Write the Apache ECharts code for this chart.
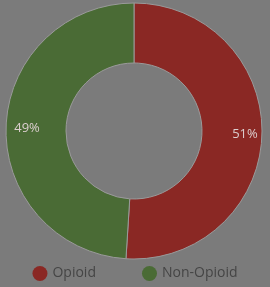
<!DOCTYPE html>
<html>
<head>
<meta charset="utf-8">
<script src="https://cdn.jsdelivr.net/npm/echarts@6/dist/echarts.min.js"></script>
<style>
  html, body { margin: 0; padding: 0; background: #7b7b7b; }
  #chart { width: 270px; height: 287px; }
</style>
</head>
<body>
<div id="chart"></div>
<script>
var categories = ['Opioid', 'Non-Opioid'];
var values = [51, 49];
var colors = ['#8a2824', '#4a6b35'];

var chart = echarts.init(document.getElementById('chart'));
chart.setOption({
  backgroundColor: '#7b7b7b',
  color: colors,
  legend: {
    bottom: 1,
    left: 'center',
    icon: 'circle',
    itemWidth: 15,
    itemHeight: 15,
    itemGap: 46,
    itemStyle: { borderWidth: 0 },
    textStyle: { color: '#454545', fontSize: 14, fontFamily: 'Open Sans' },
    data: categories
  },
  series: [{
    type: 'pie',
    radius: [68, 128],
    center: [134, 131],
    startAngle: 90,
    clockwise: true,
    silent: true,
    itemStyle: { borderColor: '#9a9a9a', borderWidth: 1 },
    label: {
      position: 'inside',
      color: '#dccfcf',
      fontSize: 13,
      fontFamily: 'Open Sans',
      formatter: function (p) { return p.value + '%'; }
    },
    // nudge labels outward a bit, like the original
    labelLayout: function (p) {
      return { dx: p.dataIndex === 0 ? 10 : -6 };
    },
    labelLine: { show: false },
    data: categories.map(function (c, i) { return { name: c, value: values[i] }; })
  }]
});
</script>
</body>
</html>
